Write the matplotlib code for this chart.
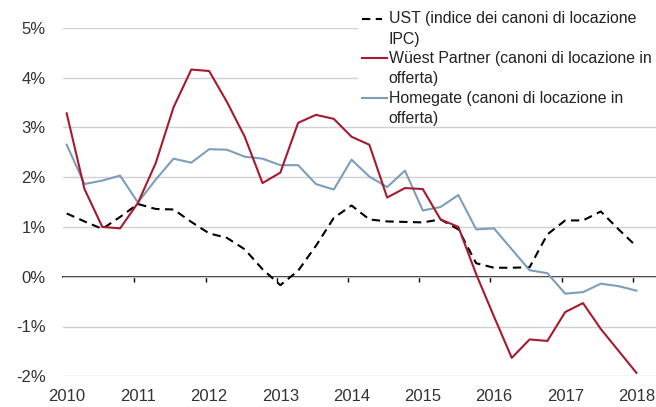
import numpy as np
import matplotlib
matplotlib.use("Agg")
import matplotlib.pyplot as plt
from matplotlib.lines import Line2D
from matplotlib.patches import Rectangle

### Data (quarterly, 2010 Q1 .. 2018 Q1), yoy change in % ###
years = ["2010", "2011", "2012", "2013", "2014", "2015", "2016", "2017", "2018"]

ust = [1.27, 1.11, 0.96, 1.20, 1.46, 1.36, 1.35, 1.10, 0.87, 0.78, 0.55, 0.15,
       -0.17, 0.12, 0.62, 1.18, 1.43, 1.15, 1.11, 1.10, 1.09, 1.15, 0.95, 0.27,
       0.18, 0.18, 0.19, 0.85, 1.13, 1.13, 1.31, 0.95, 0.61]
wuest = [3.28, 1.76, 1.00, 0.97, 1.48, 2.28, 3.40, 4.16, 4.13, 3.51, 2.81, 1.88,
         2.09, 3.09, 3.25, 3.17, 2.81, 2.65, 1.59, 1.78, 1.76, 1.15, 1.00, 0.05,
         -0.80, -1.63, -1.26, -1.29, -0.71, -0.53, -1.05, -1.49, -1.93]
homegate = [2.65, 1.86, 1.93, 2.03, 1.49, 1.95, 2.37, 2.29, 2.56, 2.55, 2.41, 2.37,
            2.24, 2.24, 1.86, 1.75, 2.35, 2.01, 1.80, 2.13, 1.33, 1.40, 1.64, 0.95,
            0.97, 0.55, 0.13, 0.07, -0.34, -0.31, -0.14, -0.19, -0.28]

labels = [["UST (indice dei canoni di locazione", "IPC)"],
          ["Wüest Partner (canoni di locazione in", "offerta)"],
          ["Homegate (canoni di locazione in", "offerta)"]]

red = "#a6192e"
blue = "#7d9dbd"
txt = "#333333"

plt.rcParams["font.family"] = ["Liberation Sans", "DejaVu Sans"]

x = np.arange(len(ust))

fig = plt.figure(figsize=(6.56, 4.07), dpi=100)
ax = fig.add_axes([63.3 / 656, 1 - 376.3 / 407, 592.7 / 656, 348.6 / 407])

ax.plot(x, ust, color="black", lw=1.5, ls=(0, (4, 2.6)), zorder=3)
ax.plot(x, wuest, color=red, lw=1.5, zorder=4)
ax.plot(x, homegate, color=blue, lw=1.5, zorder=3)

ax.set_xlim(-0.19, 33.1)
ax.set_ylim(-2, 5)
ax.set_yticks(range(-2, 6))
ax.set_yticklabels([f"{v}%" for v in range(-2, 6)])
ax.grid(axis="y", color="#d0d0d0", lw=1)
ax.set_axisbelow(True)
ax.tick_params(axis="y", length=0, pad=12.7, labelsize=12, labelcolor=txt)
ax.set_xticks(np.arange(0, 33, 4))
ax.set_xticklabels(years)
ax.tick_params(axis="x", length=0, pad=9.5, labelsize=12, labelcolor=txt)
for s in ax.spines.values():
    s.set_visible(False)

# zero line with its tick marks
zero = ax.secondary_xaxis(2 / 7)
zero.set_xticks(np.arange(0, 33, 4) - 0.2)
zero.set_xticklabels([])
zero.tick_params(length=3.5, width=1, color="black")
zero.spines["bottom"].set_color("black")
zero.spines["bottom"].set_linewidth(1.2)

# legend drawn by hand so the handle sits on the first line
fig.patches.append(Rectangle((357.7 / 656, 1 - 125 / 407), 1, 1, transform=fig.transFigure,
                             facecolor="white", edgecolor="none", zorder=5))
handles = [dict(color="black", ls=(0, (4, 2.6)), x1=381.7),
           dict(color=red, ls="-", x1=386.7),
           dict(color=blue, ls="-", x1=386.7)]
ypos = [19, 58, 98]
for h, lab, y0 in zip(handles, labels, ypos):
    fig.add_artist(Line2D([361.7 / 656, h["x1"] / 656], [1 - y0 / 407] * 2, color=h["color"],
                          ls=h["ls"], lw=1.5, transform=fig.transFigure, zorder=6))
    for i, line in enumerate(lab):
        fig.text(388.5 / 656, 1 - (y0 + 20.5 * i) / 407, line, fontsize=11.4, color="#222222",
                 va="center", ha="left", zorder=6)

fig.savefig("out.png", dpi=100)
